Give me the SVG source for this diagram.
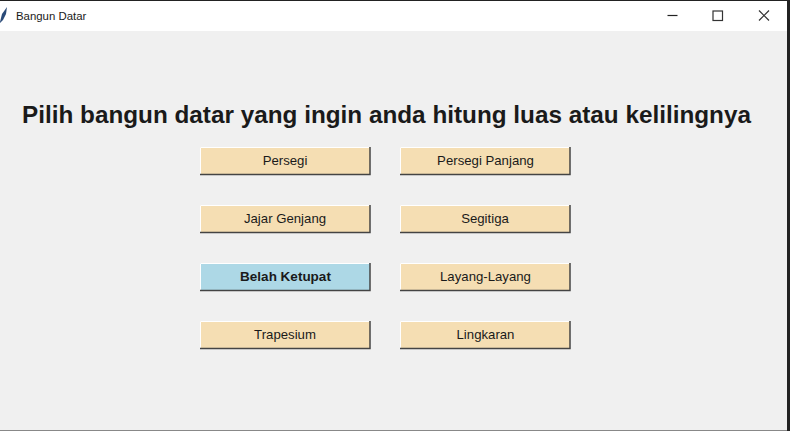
<svg xmlns="http://www.w3.org/2000/svg" width="790" height="431" viewBox="0 0 790 431">
<style>
text{font-family:"Liberation Sans",Arial,sans-serif;fill:#1a1a1a}
.l{font-size:13.2px;text-anchor:middle}
.b{fill:#f5deb3}
.k{fill:#add8e6}
.hi{fill:none;stroke:#fff;stroke-width:1}
.sh{fill:none;stroke:#444;stroke-width:1.500}
</style>
<defs>
<g id="edge"><path class="hi" d="M200.500 174V147.500H369"/><path class="sh" d="M200 174.500H370V147"/></g>
</defs>
<rect width="790" height="431" fill="#f0f0f0"/>
<g id="titlebar">
<rect width="790" height="31" fill="#fff"/>
<rect width="790" height="1" fill="#222"/>
<path d="M0 22 L2 14 L7 7 L6 14 L3 20 L0 23Z" fill="#2a4a78"/>
<text x="16" y="20" font-size="11.400">Bangun Datar</text>
<path d="M667.500 15.500H677.500" stroke="#222" stroke-width="1.200" fill="none"/>
<rect x="713" y="11" width="9.500" height="9.500" fill="none" stroke="#333" stroke-width="1.200"/>
<path d="M759 10.500L769 20.500M769 10.500L759 20.500" stroke="#333" stroke-width="1.200" fill="none"/>
</g>
<rect id="border-right" x="787" y="0" width="3" height="431" fill="#222"/>
<rect id="border-bottom" x="0" y="430" width="787" height="1" fill="#888"/>
<text id="heading" x="386.500" y="123" font-size="24.300" font-weight="700" text-anchor="middle">Pilih bangun datar yang ingin anda hitung luas atau kelilingnya</text>
<g id="persegi"><rect class="b" x="200" y="147" width="170" height="28"/><use href="#edge"/><text class="l" x="285" y="165">Persegi</text></g>
<g id="persegi-panjang"><rect class="b" x="400" y="147" width="170" height="28"/><use href="#edge" x="200"/><text class="l" x="485.500" y="165">Persegi Panjang</text></g>
<g id="jajar-genjang"><rect class="b" x="200" y="205" width="170" height="28"/><use href="#edge" y="58"/><text class="l" x="285" y="223">Jajar Genjang</text></g>
<g id="segitiga"><rect class="b" x="400" y="205" width="170" height="28"/><use href="#edge" x="200" y="58"/><text class="l" x="485" y="223">Segitiga</text></g>
<g id="belah-ketupat"><rect class="k" x="200" y="263" width="170" height="28"/><use href="#edge" y="116"/><text class="l" x="285.500" y="281" font-weight="700" style="font-size:13.500px">Belah Ketupat</text></g>
<g id="layang-layang"><rect class="b" x="400" y="263" width="170" height="28"/><use href="#edge" x="200" y="116"/><text class="l" x="485.500" y="281">Layang-Layang</text></g>
<g id="trapesium"><rect class="b" x="200" y="321" width="170" height="28"/><use href="#edge" y="174"/><text class="l" x="285" y="339">Trapesium</text></g>
<g id="lingkaran"><rect class="b" x="400" y="321" width="170" height="28"/><use href="#edge" x="200" y="174"/><text class="l" x="485.500" y="339">Lingkaran</text></g>
<g id="connectors"/>
</svg>
